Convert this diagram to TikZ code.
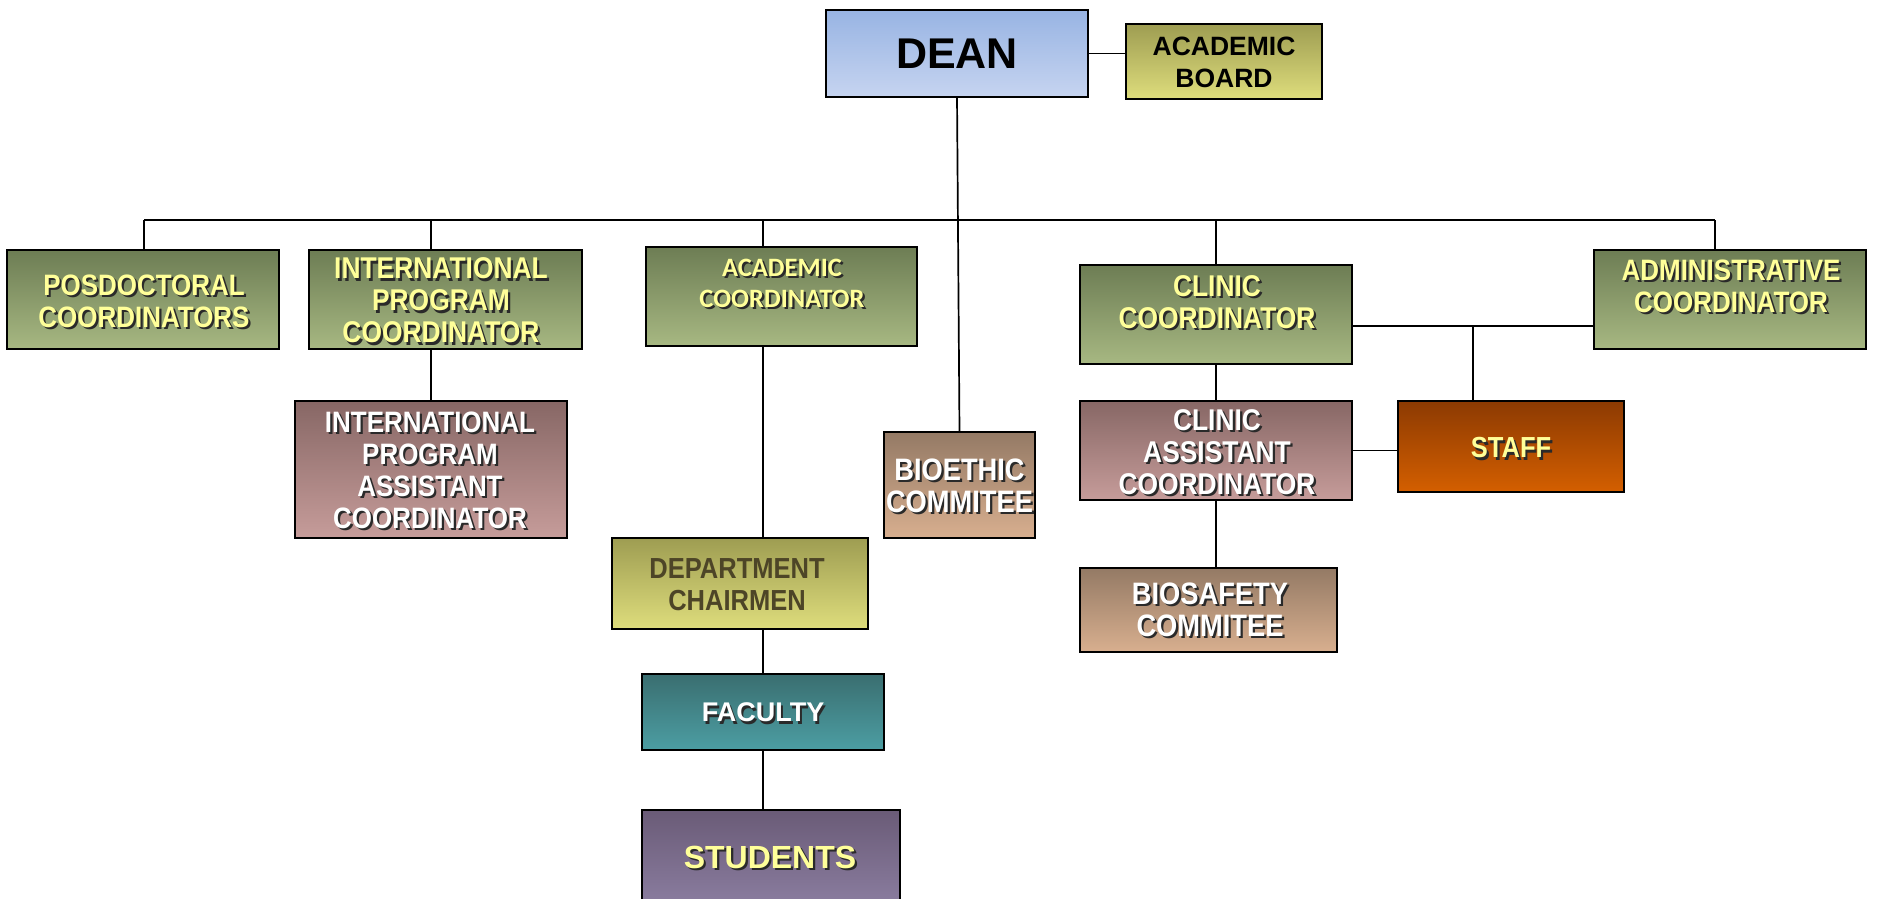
\documentclass[tikz,border=0pt]{standalone}
\usepackage{fontspec}
\setmainfont{Liberation Sans}
\newfontfamily\narrowf[FakeStretch=0.88]{Liberation Sans}
\newfontfamily\calib{Carlito}
\usetikzlibrary{calc,backgrounds}
\definecolor{deanT}{HTML}{98B4E3}\definecolor{deanB}{HTML}{C6D4F0}
\definecolor{oliveT}{HTML}{9E9D52}\definecolor{oliveB}{HTML}{DEDD7C}
\definecolor{greenT}{HTML}{6D7D54}\definecolor{greenB}{HTML}{A7B882}
\definecolor{pinkT}{HTML}{876765}\definecolor{pinkB}{HTML}{C69C9A}
\definecolor{tanT}{HTML}{947A65}\definecolor{tanB}{HTML}{D8AF8F}
\definecolor{staffT}{HTML}{8C3A02}\definecolor{staffB}{HTML}{D45F00}
\definecolor{facT}{HTML}{3A6E70}\definecolor{facB}{HTML}{4C9EA3}
\definecolor{stuT}{HTML}{6A5B77}\definecolor{stuB}{HTML}{9689AE}
\definecolor{yel}{HTML}{FFFF99}
\definecolor{deptTxt}{HTML}{4D4527}
\definecolor{shadowc}{HTML}{2A2A2A}
\tikzset{
  box/.style={draw=black, line width=1.8pt, inner sep=0pt, outer sep=0pt},
  conn/.style={draw=black, line width=1.7pt},
  txt/.style={align=center, inner sep=0pt},
  nfont/.style={font=\narrowf\bfseries\fontsize{#1}{32}\selectfont},
  rfont/.style={font=\bfseries\fontsize{#1}{32}\selectfont},
  green/.style={box, top color=greenT, bottom color=greenB},
  olive/.style={box, top color=oliveT, bottom color=oliveB},
  pinkbox/.style={box, top color=pinkT, bottom color=pinkB},
  tanbox/.style={box, top color=tanT, bottom color=tanB},
}
\newcommand\shlabel[5]{%
  \node[txt, text=shadowc, #4] (#1s) at ($(#2)+(2.2,2.2)$) {#5};
  \node[txt, text=#3, #4] (#1) at (#2) {#5};}
\begin{document}
\begin{tikzpicture}[x=1pt,y=-1pt]
\useasboundingbox (0,0) rectangle (1878,898);
% boxes
\node[box, top color=deanT, bottom color=deanB, minimum width=262, minimum height=87] (dean) at (957,53.5) {};
\node[olive, minimum width=196, minimum height=75] (board) at (1224,61.5) {};
\node[green, minimum width=272, minimum height=99] (posdoc) at (143,299.5) {};
\node[green, minimum width=273, minimum height=99] (intl) at (445.5,299.5) {};
\node[green, minimum width=271, minimum height=99] (acad) at (781.5,296.5) {};
\node[pinkbox, minimum width=272, minimum height=137] (intlass) at (431,469.5) {};
\node[tanbox, minimum width=151, minimum height=106] (bioethic) at (959.5,485) {};
\node[olive, minimum width=256, minimum height=91] (dept) at (740,583.5) {};
\node[box, top color=facT, bottom color=facB, minimum width=242, minimum height=76] (faculty) at (763,712) {};
\node[box, top color=stuT, bottom color=stuB, minimum width=258, minimum height=130] (students) at (771,875) {};
\node[green, minimum width=272, minimum height=99] (clinic) at (1216,314.5) {};
\node[green, minimum width=272, minimum height=99] (admin) at (1730,299.5) {};
\node[pinkbox, minimum width=272, minimum height=99] (clinass) at (1216,450.5) {};
\node[box, top color=staffT, bottom color=staffB, minimum width=226, minimum height=91] (staff) at (1511,446.5) {};
\node[tanbox, minimum width=257, minimum height=84] (biosafety) at (1208.5,610) {};
% bus and junction points
\coordinate (busL) at (144,220);
\coordinate (busR) at (1715,220);
\coordinate (busI) at (431,220);
\coordinate (busA) at (763,220);
\coordinate (busC) at (1216,220);
\coordinate (jS) at (1473,326);
% connectors behind the boxes
\begin{scope}[on background layer]
\draw[conn] (dean.east) -- (dean.east -| board.west);
\draw[conn] (dean.south) -- (bioethic.north);
\draw[conn] (busL) -- (busR);
\draw[conn] (busL) -- (busL |- posdoc.north);
\draw[conn] (busI) -- (busI |- intlass.north);
\draw[conn] (busA) -- (busA |- dept.north);
\draw[conn] (busA |- dept.south) -- (faculty.north);
\draw[conn] (faculty.south) -- (faculty.south |- students.north);
\draw[conn] (busC) -- (clinic.north);
\draw[conn] (busR) -- (busR |- admin.north);
\draw[conn] (clinic.east |- jS) -- (admin.west |- jS);
\draw[conn] (jS) -- (jS |- staff.north);
\draw[conn] (clinic.south) -- (clinass.north);
\draw[conn] (clinass.east) -- (clinass.east -| staff.west);
\draw[conn] (clinass.south) -- (clinass.south |- biosafety.north);
\end{scope}
% texts
\node[txt, rfont=43] (deanT) at (957,54) {DEAN};
\node[txt, rfont=26.5] (boardT) at (1224,62) {ACADEMIC\\BOARD};
\shlabel{posdocT}{144,301}{yel}{nfont=29.5}{POSDOCTORAL\\COORDINATORS}
\shlabel{intlT}{441,300.5}{yel}{nfont=30}{INTERNATIONAL\\PROGRAM\\COORDINATOR}
\shlabel{acadT}{782,283}{yel}{font=\calib\bfseries\fontsize{26.5}{31}\selectfont}{ACADEMIC\\COORDINATOR}
\shlabel{intlassT}{430,470.5}{white}{nfont=29.5}{INTERNATIONAL\\PROGRAM\\ASSISTANT\\COORDINATOR}
\shlabel{bioethicT}{959.5,486}{white}{nfont=31}{BIOETHIC\\COMMITEE}
\node[txt, text=deptTxt, nfont=29] (deptT) at (737,585) {DEPARTMENT\\CHAIRMEN};
\shlabel{facultyT}{763,712.6}{white}{rfont=27}{FACULTY}
\shlabel{studentsT}{770,857.5}{yel}{rfont=32}{STUDENTS}
\shlabel{clinicT}{1217,302}{yel}{nfont=30}{CLINIC\\COORDINATOR}
\shlabel{clinassT}{1217,452}{white}{nfont=30}{CLINIC\\ASSISTANT\\COORDINATOR}
\shlabel{staffT}{1511,448}{yel}{nfont=29}{STAFF}
\shlabel{adminT}{1731,286}{yel}{nfont=29.5}{ADMINISTRATIVE\\COORDINATOR}
\shlabel{biosafetyT}{1210,610}{white}{nfont=31}{BIOSAFETY\\COMMITEE}
\end{tikzpicture}
\end{document}
